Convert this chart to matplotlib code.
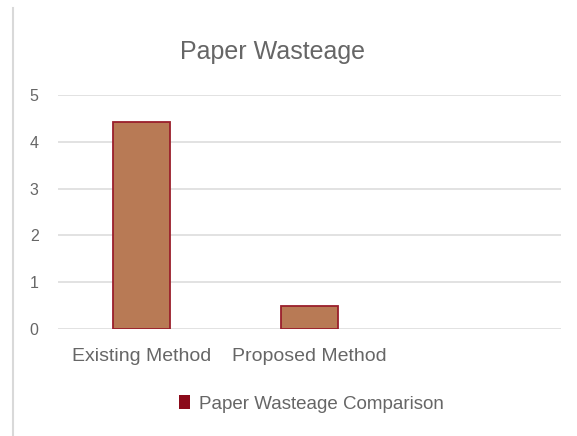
import matplotlib
matplotlib.use("Agg")
import matplotlib.pyplot as plt
from matplotlib.lines import Line2D

categories = ["Existing Method", "Proposed Method", ""]
values = [4.42, 0.5, None]
series_name = "Paper Wasteage Comparison"
title = "Paper Wasteage"
yticks = [0, 1, 2, 3, 4, 5]

plt.rcParams['font.family'] = ['Liberation Sans', 'DejaVu Sans']

fig = plt.figure(figsize=(5.77, 4.36), dpi=100)
ax = fig.add_axes([58/577, 1-329/436, (561-58)/577, (329-95)/436])

xs = [i for i, v in enumerate(values) if v is not None]
vs = [v for v in values if v is not None]
bars = ax.bar(xs, vs, width=0.34, color='#B87A55', edgecolor='#9A1F2B',
              linewidth=1.3, label=series_name, zorder=3)

ax.set_xlim(-0.5, len(categories) - 0.5)
ax.set_ylim(0, 5)
ax.set_yticks(yticks)
ax.set_yticklabels([str(t) for t in yticks])
ax.set_xticks(range(len(categories)))
ax.set_xticklabels(categories)
ax.grid(axis='y', color='#DDDDDD', linewidth=1.2, zorder=0)
for s in ax.spines.values():
    s.set_visible(False)
ax.tick_params(axis='both', length=0, colors='#666666')
ax.tick_params(axis='y', labelsize=11.5, pad=14)
ax.tick_params(axis='x', labelsize=14, pad=14)

fig.text(272/577, 1-52/436, title, ha='center', va='center', fontsize=18, color='#666666')

handle = plt.Rectangle((0, 0), 1, 1, facecolor='#8B0A1A', edgecolor='none')
fig.legend([handle], [series_name], loc='center', bbox_to_anchor=(0.54, 1-404/436),
           frameon=False, fontsize=13.5, handlelength=0.6, handleheight=0.7,
           handletextpad=0.5, labelcolor='#666666')

fig.add_artist(Line2D([13/577, 13/577], [0, 1-8/436], color='#D9D9D9', linewidth=1.5,
                      transform=fig.transFigure))

fig.savefig("out.png", dpi=100)
